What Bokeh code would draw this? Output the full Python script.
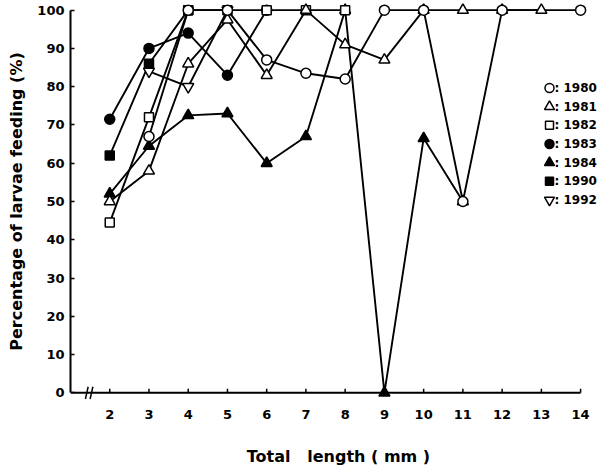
from bokeh.plotting import figure
from bokeh.models import Range1d, FixedTicker
from bokeh.core.properties import value
from bokeh.embed import file_html
from bokeh.resources import INLINE

x_ticks = [2, 3, 4, 5, 6, 7, 8, 9, 10, 11, 12, 13, 14]
y_ticks = [0, 10, 20, 30, 40, 50, 60, 70, 80, 90, 100]

x1980 = [3, 4, 5, 6, 7, 8, 9, 10, 11, 12, 14]
y1980 = [67, 100, 100, 87, 83.5, 82, 100, 100, 50, 100, 100]
x1981 = [2, 3, 4, 5, 6, 7, 8, 9, 10, 11, 12, 13]
y1981 = [50, 58, 86, 97.5, 83, 100, 91, 87, 100, 100, 100, 100]
x1982 = [2, 3, 4, 5, 6, 7, 8]
y1982 = [44.5, 72, 100, 100, 100, 100, 100]
x1983 = [2, 3, 4, 5, 6]
y1983 = [71.5, 90, 94, 83, 100]
x1984 = [2, 3, 4, 5, 6, 7, 8, 9, 10, 11]
y1984 = [52, 64.5, 72.5, 73, 60, 67, 100, 0, 66.5, 50]
x1990 = [2, 3, 4]
y1990 = [62, 86, 100]
x1992 = [3, 4, 5]
y1992 = [84, 80, 100]

legend_years = ["1980", "1981", "1982", "1983", "1984", "1990", "1992"]

FONT = "DejaVu Sans"
FRAME_W = 536
FRAME_H = 405

p = figure(width=608, height=468, output_backend="svg", toolbar_location=None,
           x_range=Range1d(1.0, 14.66), y_range=Range1d(-2, 102),
           min_border_left=70, min_border_right=2, min_border_top=2, min_border_bottom=61)
p.grid.visible = False
p.outline_line_color = None
# pixel-like ranges used only to place the legend block
p.extra_x_ranges = {"px": Range1d(0, FRAME_W)}
p.extra_y_ranges = {"py": Range1d(0, FRAME_H)}

# x axis: labels from Bokeh, line and ticks drawn at y = 0
xa = p.xaxis[0]
xa.ticker = FixedTicker(ticks=x_ticks)
xa.axis_line_color = None
xa.major_tick_line_color = None
xa.minor_tick_line_color = None
xa.major_label_text_font = FONT
xa.major_label_text_font_style = "bold"
xa.major_label_text_font_size = "13px"
xa.major_label_text_color = "black"
xa.major_label_standoff = 3
xa.axis_label = "Total\u00a0\u00a0\u00a0length ( mm )"
xa.axis_label_text_font = FONT
xa.axis_label_text_font_style = "bold"
xa.axis_label_text_font_size = "16px"
xa.axis_label_text_color = "black"
xa.axis_label_standoff = 25

ya = p.yaxis[0]
ya.bounds = (0, 100)
ya.ticker = FixedTicker(ticks=y_ticks)
ya.minor_tick_line_color = None
ya.major_tick_in = 4
ya.major_tick_out = 0
ya.axis_line_width = 2
ya.major_tick_line_width = 1.5
ya.major_label_text_font = FONT
ya.major_label_text_font_style = "bold"
ya.major_label_text_font_size = "13px"
ya.major_label_text_color = "black"
ya.major_label_standoff = 6
ya.axis_label = "Percentage of larvae feeding (%)"
ya.axis_label_text_font = FONT
ya.axis_label_text_font_style = "bold"
ya.axis_label_text_font_size = "16px"
ya.axis_label_text_color = "black"
ya.axis_label_standoff = 8

# x axis line, ticks and break mark
p.segment(x0=[1.0], y0=[0], x1=[14], y1=[0], line_color="black", line_width=2)
p.segment(x0=x_ticks, y0=[0] * len(x_ticks), x1=x_ticks, y1=[1.1] * len(x_ticks),
          line_color="black", line_width=1.5)
p.segment(x0=[1.38, 1.50], y0=[-1.6, -1.6], x1=[1.45, 1.57], y1=[1.6, 1.6],
          line_color="black", line_width=1.5)

style = {
    "1980": ("circle", "white", 10),
    "1981": ("triangle", "white", 11),
    "1982": ("square", "white", 9),
    "1983": ("circle", "black", 10),
    "1984": ("triangle", "black", 11),
    "1990": ("square", "black", 9),
    "1992": ("inverted_triangle", "white", 11),
}
data = {
    "1980": (x1980, y1980), "1981": (x1981, y1981), "1982": (x1982, y1982),
    "1983": (x1983, y1983), "1984": (x1984, y1984), "1990": (x1990, y1990),
    "1992": (x1992, y1992),
}
draw_order = ["1990", "1992", "1983", "1984", "1982", "1981", "1980"]

for k in draw_order:
    xs, ys = data[k]
    p.line(xs, ys, line_color="black", line_width=1.9)

for k in draw_order:
    xs, ys = data[k]
    m, f, sz = style[k]
    p.scatter(xs, ys, marker=m, size=sz, fill_color=f, line_color="black", line_width=1.5)

# legend block (marker + ": year"), placed in pixel units inside the frame
LX = 479
LY0 = 318
LSTEP = 19
for i, k in enumerate(legend_years):
    m, f, sz = style[k]
    p.scatter([LX], [LY0 - LSTEP * i], marker=m, size=sz - 1, fill_color=f,
              line_color="black", line_width=1.5, x_range_name="px", y_range_name="py")
p.text(x=[LX + 5] * len(legend_years), y=[LY0 - LSTEP * i for i in range(len(legend_years))],
       text=[": " + k for k in legend_years], x_range_name="px", y_range_name="py",
       text_font=value(FONT), text_font_style="bold", text_font_size="12px",
       text_baseline="middle", text_align="left", text_color="black")

open("out.html", "w").write(file_html(p, INLINE))
